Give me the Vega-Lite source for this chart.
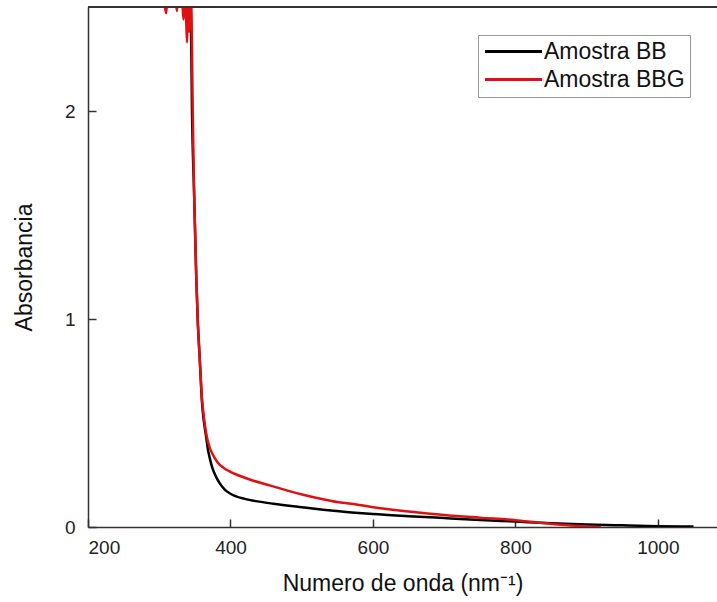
{
  "$schema": "https://vega.github.io/schema/vega-lite/v6.json",
  "width": 629,
  "height": 520,
  "autosize": "none",
  "padding": {"left": 88, "top": 7, "right": 0, "bottom": 75},
  "background": "white",
  "config": {
    "font": "Liberation Sans",
    "view": {"stroke": null},
    "axis": {"grid": false, "domainColor": "#333", "domainWidth": 1.5, "tickColor": "#333", "tickWidth": 1.5, "tickSize": -8, "labelFontSize": 19, "labelColor": "#222", "titleFontSize": 23, "titleFontWeight": "normal", "titleColor": "#111", "labelFont": "Liberation Sans", "titleFont": "Liberation Sans"}
  },
  "data": {"values": [
    {"wl": 340, "a": 3.0, "s": "Amostra BB"},
    {"wl": 344, "a": 2.6, "s": "Amostra BB"},
    {"wl": 346, "a": 2.0, "s": "Amostra BB"},
    {"wl": 349, "a": 1.6, "s": "Amostra BB"},
    {"wl": 352, "a": 1.2, "s": "Amostra BB"},
    {"wl": 354, "a": 1.0, "s": "Amostra BB"},
    {"wl": 357, "a": 0.8, "s": "Amostra BB"},
    {"wl": 360, "a": 0.6, "s": "Amostra BB"},
    {"wl": 363, "a": 0.5, "s": "Amostra BB"},
    {"wl": 366, "a": 0.43, "s": "Amostra BB"},
    {"wl": 368, "a": 0.38, "s": "Amostra BB"},
    {"wl": 371, "a": 0.33, "s": "Amostra BB"},
    {"wl": 375, "a": 0.28, "s": "Amostra BB"},
    {"wl": 380, "a": 0.24, "s": "Amostra BB"},
    {"wl": 385, "a": 0.21, "s": "Amostra BB"},
    {"wl": 392, "a": 0.18, "s": "Amostra BB"},
    {"wl": 400, "a": 0.16, "s": "Amostra BB"},
    {"wl": 420, "a": 0.135, "s": "Amostra BB"},
    {"wl": 440, "a": 0.122, "s": "Amostra BB"},
    {"wl": 460, "a": 0.112, "s": "Amostra BB"},
    {"wl": 500, "a": 0.095, "s": "Amostra BB"},
    {"wl": 530, "a": 0.083, "s": "Amostra BB"},
    {"wl": 570, "a": 0.07, "s": "Amostra BB"},
    {"wl": 600, "a": 0.062, "s": "Amostra BB"},
    {"wl": 650, "a": 0.052, "s": "Amostra BB"},
    {"wl": 700, "a": 0.043, "s": "Amostra BB"},
    {"wl": 750, "a": 0.034, "s": "Amostra BB"},
    {"wl": 800, "a": 0.026, "s": "Amostra BB"},
    {"wl": 850, "a": 0.018, "s": "Amostra BB"},
    {"wl": 900, "a": 0.012, "s": "Amostra BB"},
    {"wl": 950, "a": 0.008, "s": "Amostra BB"},
    {"wl": 1000, "a": 0.004, "s": "Amostra BB"},
    {"wl": 1050, "a": 0.002, "s": "Amostra BB"},
    {"wl": 305, "a": 2.6, "s": "Amostra BBG"},
    {"wl": 310, "a": 2.47, "s": "Amostra BBG"},
    {"wl": 312, "a": 2.6, "s": "Amostra BBG"},
    {"wl": 320, "a": 2.6, "s": "Amostra BBG"},
    {"wl": 325, "a": 2.48, "s": "Amostra BBG"},
    {"wl": 327, "a": 2.6, "s": "Amostra BBG"},
    {"wl": 332, "a": 2.55, "s": "Amostra BBG"},
    {"wl": 334, "a": 2.44, "s": "Amostra BBG"},
    {"wl": 336, "a": 2.6, "s": "Amostra BBG"},
    {"wl": 338, "a": 2.42, "s": "Amostra BBG"},
    {"wl": 339, "a": 2.33, "s": "Amostra BBG"},
    {"wl": 340, "a": 2.6, "s": "Amostra BBG"},
    {"wl": 342, "a": 2.38, "s": "Amostra BBG"},
    {"wl": 344, "a": 2.6, "s": "Amostra BBG"},
    {"wl": 346, "a": 2.3, "s": "Amostra BBG"},
    {"wl": 347, "a": 2.0, "s": "Amostra BBG"},
    {"wl": 349, "a": 1.6, "s": "Amostra BBG"},
    {"wl": 352, "a": 1.2, "s": "Amostra BBG"},
    {"wl": 354, "a": 1.0, "s": "Amostra BBG"},
    {"wl": 357, "a": 0.8, "s": "Amostra BBG"},
    {"wl": 360, "a": 0.62, "s": "Amostra BBG"},
    {"wl": 363, "a": 0.52, "s": "Amostra BBG"},
    {"wl": 367, "a": 0.43, "s": "Amostra BBG"},
    {"wl": 371, "a": 0.38, "s": "Amostra BBG"},
    {"wl": 375, "a": 0.35, "s": "Amostra BBG"},
    {"wl": 382, "a": 0.31, "s": "Amostra BBG"},
    {"wl": 390, "a": 0.285, "s": "Amostra BBG"},
    {"wl": 400, "a": 0.265, "s": "Amostra BBG"},
    {"wl": 410, "a": 0.25, "s": "Amostra BBG"},
    {"wl": 430, "a": 0.225, "s": "Amostra BBG"},
    {"wl": 455, "a": 0.2, "s": "Amostra BBG"},
    {"wl": 480, "a": 0.175, "s": "Amostra BBG"},
    {"wl": 502, "a": 0.155, "s": "Amostra BBG"},
    {"wl": 530, "a": 0.133, "s": "Amostra BBG"},
    {"wl": 550, "a": 0.12, "s": "Amostra BBG"},
    {"wl": 570, "a": 0.112, "s": "Amostra BBG"},
    {"wl": 600, "a": 0.095, "s": "Amostra BBG"},
    {"wl": 650, "a": 0.075, "s": "Amostra BBG"},
    {"wl": 700, "a": 0.058, "s": "Amostra BBG"},
    {"wl": 750, "a": 0.045, "s": "Amostra BBG"},
    {"wl": 800, "a": 0.033, "s": "Amostra BBG"},
    {"wl": 830, "a": 0.022, "s": "Amostra BBG"},
    {"wl": 860, "a": 0.012, "s": "Amostra BBG"},
    {"wl": 890, "a": 0.005, "s": "Amostra BBG"},
    {"wl": 910, "a": 0.001, "s": "Amostra BBG"},
    {"wl": 920, "a": 0.0, "s": "Amostra BBG"}
  ]},
  "layer": [
    {
      "mark": {"type": "line", "clip": true, "strokeWidth": 2.5, "interpolate": "monotone"},
      "encoding": {
        "x": {"field": "wl", "type": "quantitative", "title": "Numero de onda (nm⁻¹)",
              "scale": {"domain": [200, 1083], "nice": false},
              "axis": {"values": [200, 400, 600, 800, 1000], "format": "d", "labelPadding": 19, "titlePadding": 15}},
        "y": {"field": "a", "type": "quantitative", "title": "Absorbancia",
              "scale": {"domain": [0, 2.5], "nice": false},
              "axis": {"values": [0, 1, 2], "format": "d", "labelPadding": 21, "titlePadding": 28}},
        "color": {"field": "s", "type": "nominal",
                  "scale": {"domain": ["Amostra BB", "Amostra BBG"], "range": ["#000000", "#e01010"]},
                  "legend": {"title": null, "orient": "none", "legendX": 390, "legendY": 28,
                             "strokeColor": "#999", "fillColor": "white", "padding": 5,
                             "symbolType": "M-1,0H5", "symbolSize": 361, "symbolStrokeWidth": 3,
                             "labelFontSize": 23, "labelColor": "#111", "rowPadding": 4, "labelOffset": 38}},
        "order": {"field": "wl", "type": "quantitative"}
      }
    },
    {
      "mark": {"type": "rule", "color": "#333", "strokeWidth": 1.5},
      "encoding": {"y": {"datum": 2.5}}
    }
  ]
}
